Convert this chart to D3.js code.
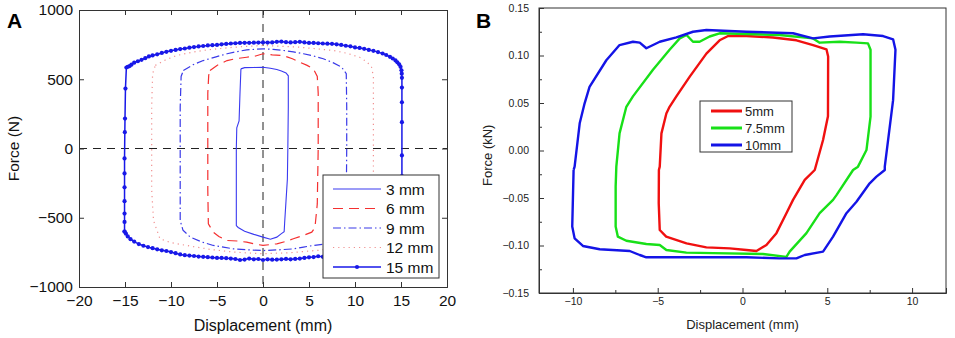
<!DOCTYPE html>
<html>
<head>
<meta charset="utf-8">
<script src="https://cdn.jsdelivr.net/npm/d3@7"></script>
<style>
  body { margin: 0; background: #fff; }
  svg { display: block; font-family: "Liberation Sans", Arial, sans-serif; }
</style>
</head>
<body>
<svg id="chart" width="955" height="338"></svg>
<script>
// ---- panel A data: force (N) vs displacement (mm) ----
const aXTicks = [-20, -15, -10, -5, 0, 5, 10, 15, 20];
const aYTicks = [-1000, -500, 0, 500, 1000];
const aLabels = ["3 mm", "6 mm", "9 mm", "12 mm", "15 mm"];

const loop3 = [[-2.4,575],[-2.0,584],[-1.0,585],[0,587],[0.8,580],[1.5,570],[2.0,560],[2.5,545],[2.75,525],
  [2.75,300],[2.7,0],[2.65,-220],[2.5,-380],[2.35,-540],[2.3,-600],[2.0,-615],[1.5,-640],[0.8,-655],[0,-640],
  [-1.0,-620],[-2.0,-598],[-2.7,-570],[-2.9,-556],[-2.9,-300],[-2.9,0],[-2.85,150],[-2.6,200],[-2.5,400],[-2.4,575]];

const loop6 = [[-5.76,563],[-5.0,600],[-3.9,635],[-3.0,648],[-1.77,659],[-0.8,668],[0,684],[1.0,676],[2.2,671],
  [3.2,648],[4.0,623],[4.8,600],[5.47,575],[5.9,520],[6.0,400],[6.0,0],[5.9,-400],[5.65,-570],[5.3,-604],
  [4.3,-630],[3.3,-652],[2.4,-672],[1.5,-688],[0,-700],[-0.9,-690],[-1.77,-676],[-2.8,-668],[-3.9,-664],
  [-4.8,-636],[-5.4,-604],[-5.94,-544],[-6.0,-300],[-6.0,0],[-6.0,400],[-5.9,530],[-5.76,563]];

const loop9 = [[-8.66,563],[-7.6,605],[-6.5,635],[-5.2,660],[-3.9,684],[-2.8,700],[-1.77,712],[0,720],[1.1,716],
  [2.2,708],[3.3,698],[4.4,684],[5.5,668],[6.55,648],[7.6,620],[8.55,587],[9.05,540],[9.1,300],[9.1,0],
  [9.05,-400],[8.9,-560],[8.3,-640],[7.5,-675],[6.5,-692],[5.47,-700],[4.4,-712],[3.3,-725],[1.6,-732],
  [0,-737],[-1.6,-732],[-3.2,-725],[-4.3,-712],[-5.4,-700],[-6.6,-676],[-7.9,-640],[-8.7,-590],[-9.0,-520],
  [-9.0,-200],[-9.0,0],[-9.0,300],[-8.9,520],[-8.66,563]];

const loop12 = [[-11.7,600],[-10.6,640],[-9.4,671],[-7.8,694],[-6.1,712],[-4.6,722],[-3.2,731],[-1.6,738],[0,744],
  [2.0,738],[4.0,731],[5.8,720],[7.6,708],[9.1,688],[10.5,659],[11.3,625],[11.8,587],[12.0,520],[12.0,0],
  [12.0,-480],[11.8,-600],[11.2,-655],[10.0,-690],[8.3,-715],[6.0,-735],[3.0,-752],[0,-760],[-3.2,-748],
  [-5.8,-728],[-8.3,-700],[-10.0,-680],[-11.2,-652],[-11.9,-520],[-12.1,-300],[-12.1,0],[-12.1,300],
  [-12.0,540],[-11.7,600]];

const loop15 = [[-15.05,-600],[-15.05,-530],[-15.05,-470],[-15.05,-380],[-15.05,-280],[-15.05,-180],[-15.05,-72],
  [-15.02,118],[-15.0,216],[-14.95,433],[-14.85,585],[-14.7,590],[-14.5,595],[-14.3,605],[-14.0,620],[-13.6,630],
  [-13.2,640],[-12.8,652],[-12.4,665],[-12.0,672],[-11.5,680],[-11.0,690],[-10.5,698],[-10.0,705],[-9.5,712],
  [-9.0,718],[-8.5,722],[-8.0,728],[-7.5,732],[-7.0,737],[-6.5,740],[-6.0,744],[-5.5,746],[-5.0,748],[-4.5,752],
  [-4.0,755],[-3.5,758],[-3.0,760],[-2.5,762],[-2.0,763],[-1.5,763],[-1.0,764],[-0.5,765],[0,766],[0.5,765],
  [1.0,766],[1.5,770],[2.0,772],[2.5,768],[3.0,766],[3.5,768],[4.0,770],[4.5,766],[5.0,762],[5.5,762],[6.0,760],
  [6.5,758],[7.0,757],[7.5,756],[8.0,752],[8.5,748],[9.0,742],[9.5,738],[10.0,730],[10.5,726],[11.0,720],
  [11.5,712],[12.0,705],[12.5,696],[13.0,686],[13.4,675],[13.8,662],[14.1,650],[14.4,636],[14.6,622],[14.8,608],
  [14.95,590],[15.05,565],[15.08,540],[15.1,510],[15.1,440],[15.1,334],[15.1,190],[15.1,-50],[15.1,-200],
  [15.1,-400],[15.0,-560],[14.8,-620],[14.0,-680],[13.0,-720],[12.0,-740],[11.0,-755],[10.0,-765],[9.0,-772],
  [8.0,-778],[7.0,-780],[6.5,-782],[6.0,-778],[5.5,-784],[5.0,-786],[4.5,-790],[4.0,-795],[3.5,-797],[3.0,-800],
  [2.5,-797],[2.0,-800],[1.5,-802],[1.0,-803],[0.5,-800],[0,-805],[-0.5,-798],[-1.0,-800],[-1.5,-795],[-2.0,-802],
  [-2.5,-805],[-3.0,-798],[-3.5,-795],[-4.0,-792],[-4.5,-790],[-5.0,-790],[-5.5,-787],[-6.0,-785],[-6.5,-782],
  [-7.0,-780],[-7.5,-776],[-8.0,-773],[-8.5,-770],[-9.0,-765],[-9.5,-756],[-10.0,-748],[-10.5,-740],[-11.0,-735],
  [-11.5,-728],[-12.0,-720],[-12.5,-712],[-13.0,-702],[-13.5,-690],[-14.0,-672],[-14.4,-655],[-14.7,-635],
  [-14.9,-615],[-15.05,-600]];

// ---- panel B data: force (kN) vs displacement (mm) ----
const bXTicks = [-10, -5, 0, 5, 10];
const bXMinor = [-7.5, -2.5, 2.5, 7.5];
const bYTicks = [-0.15, -0.10, -0.05, 0, 0.05, 0.10, 0.15];
const bYMinor = [-0.125, -0.075, -0.025, 0.025, 0.075, 0.125];
const bLabels = ["5mm", "7.5mm", "10mm"];

const loop5 = [[-4.3,0.046],[-3.9,0.057],[-3.1,0.078],[-2.13,0.102],[-1.35,0.116],[-0.85,0.1205],[0.23,0.1205],
  [1.8,0.119],[3.18,0.116],[4.16,0.111],[4.95,0.1065],[5.05,0.099],[5.04,0.036],[4.75,0.011],[4.26,-0.0205],
  [3.67,-0.031],[2.98,-0.052],[2.59,-0.066],[2.0,-0.087],[1.41,-0.0995],[0.82,-0.1058],[0.23,-0.1047],
  [-0.75,-0.103],[-2.13,-0.102],[-3.3,-0.0977],[-4.5,-0.0907],[-4.88,-0.0837],[-4.94,-0.0556],[-4.93,-0.0205],
  [-4.88,-0.017],[-4.78,0.018],[-4.49,0.039],[-4.3,0.046]];

const loop75 = [[-7.44,-0.017],[-7.25,0.018],[-6.85,0.046],[-6.46,0.057],[-5.28,0.085],[-4.3,0.106],[-3.7,0.118],
  [-3.3,0.1216],[-2.92,0.1145],[-2.53,0.1145],[-1.94,0.12],[-1.35,0.1234],[0.23,0.1226],[2.19,0.1216],
  [4.16,0.118],[4.55,0.1135],[5.73,0.1145],[6.72,0.1135],[7.4,0.1128],[7.55,0.106],[7.55,0.0356],[7.31,0.0005],
  [6.81,-0.017],[6.52,-0.0205],[5.54,-0.047],[5.34,-0.052],[4.55,-0.066],[3.77,-0.087],[2.78,-0.1065],
  [2.59,-0.112],[1.21,-0.109],[-1.74,-0.108],[-3.31,-0.1075],[-4.49,-0.1047],[-4.88,-0.0995],[-5.67,-0.0984],
  [-6.85,-0.095],[-7.35,-0.0907],[-7.48,-0.080],[-7.48,-0.038],[-7.44,-0.017]];

const loop10 = [[-9.96,-0.0205],[-10.04,-0.080],[-9.9,-0.0925],[-9.41,-0.1005],[-8.42,-0.104],[-6.65,-0.1058],
  [-6.06,-0.110],[-5.67,-0.1124],[-3.7,-0.1124],[0.23,-0.1124],[2.19,-0.1135],[3.18,-0.1135],[3.67,-0.110],
  [4.75,-0.1065],[5.34,-0.0907],[6.13,-0.066],[6.72,-0.054],[7.5,-0.0345],[7.9,-0.0275],[8.39,-0.0205],
  [8.39,-0.017],[8.88,0.053],[9.02,0.106],[8.88,0.117],[8.29,0.1205],[7.11,0.1223],[5.14,0.120],[4.16,0.118],
  [2.98,0.1234],[0.23,0.125],[-2.13,0.1268],[-2.92,0.125],[-3.9,0.119],[-4.88,0.1145],[-5.67,0.1076],
  [-6.06,0.1135],[-6.46,0.1145],[-7.25,0.111],[-8.03,0.095],[-9.02,0.067],[-9.31,0.0497],[-9.6,0.0286],
  [-9.9,-0.017],[-9.96,-0.0205]];

const svg = d3.select("#chart");

// ================= Panel A =================
const ax = d3.scaleLinear().domain([-20, 20]).range([79, 447]);
const ay = d3.scaleLinear().domain([-1000, 1000]).range([287, 10]);
const gA = svg.append("g");

// zero reference lines
gA.append("line").attr("x1", ax(-20)).attr("x2", ax(20)).attr("y1", ay(0)).attr("y2", ay(0))
  .attr("stroke", "#222").attr("stroke-width", 1).attr("stroke-dasharray", "8,6");
gA.append("line").attr("x1", ax(0)).attr("x2", ax(0)).attr("y1", ay(1000)).attr("y2", ay(-1000))
  .attr("stroke", "#222").attr("stroke-width", 1).attr("stroke-dasharray", "8,6");

const lineA = d3.line().x(d => ax(d[0])).y(d => ay(d[1]));
const aStyles = [
  { data: loop3,  color: "#3a3af0", width: 1.1, dash: null },
  { data: loop6,  color: "#f43030", width: 1.2, dash: "10,6" },
  { data: loop9,  color: "#3a3ae8", width: 1.2, dash: "8,3,1.5,3" },
  { data: loop12, color: "#f09090", width: 1.2, dash: "1.2,4" },
  { data: loop15, color: "#1818e8", width: 1.5, dash: null }
];
aStyles.forEach(s => {
  gA.append("path").attr("d", lineA(s.data)).attr("fill", "none")
    .attr("stroke", s.color).attr("stroke-width", s.width)
    .attr("stroke-dasharray", s.dash);
});
gA.selectAll("circle.m15").data(loop15).enter().append("circle").attr("class", "m15")
  .attr("cx", d => ax(d[0])).attr("cy", d => ay(d[1])).attr("r", 2.1).attr("fill", "#1818e8");

// axes (ticks inside, box)
const tickA = 5;
const minusFmt = d => d3.format("d")(d).replace("-", "\u2212");
const axB = gA.append("g").attr("transform", `translate(0,${ay(-1000)})`)
  .call(d3.axisBottom(ax).tickValues(aXTicks).tickSize(-tickA).tickPadding(8).tickFormat(minusFmt));
const axT = gA.append("g").attr("transform", `translate(0,${ay(1000)})`)
  .call(d3.axisTop(ax).tickValues(aXTicks).tickSize(-tickA).tickFormat(""));
const axL = gA.append("g").attr("transform", `translate(${ax(-20)},0)`)
  .call(d3.axisLeft(ay).tickValues(aYTicks).tickSize(-tickA).tickPadding(6).tickFormat(minusFmt));
const axR = gA.append("g").attr("transform", `translate(${ax(20)},0)`)
  .call(d3.axisRight(ay).tickValues(aYTicks).tickSize(-tickA).tickFormat(""));
[axB, axT, axL, axR].forEach(g => {
  g.select(".domain").attr("stroke", "#333");
  g.selectAll(".tick line").attr("stroke", "#333");
  g.selectAll("text").attr("font-size", 15.5).attr("fill", "#111").attr("font-family", "Liberation Sans, Arial, sans-serif");
});

gA.append("text").attr("x", ax(0)).attr("y", 331).attr("text-anchor", "middle")
  .attr("font-size", 16).attr("fill", "#111").text("Displacement (mm)");
gA.append("text").attr("transform", `translate(19,${ay(0)}) rotate(-90)`).attr("text-anchor", "middle")
  .attr("font-size", 15.5).attr("fill", "#111").text("Force (N)");
gA.append("text").attr("x", 7).attr("y", 28).attr("font-size", 21).attr("font-weight", "bold").attr("fill", "#000").text("A");

// legend A
const legA = gA.append("g");
legA.append("rect").attr("x", 323).attr("y", 175).attr("width", 116).attr("height", 103)
  .attr("fill", "#fff").attr("stroke", "#333").attr("stroke-width", 1);
aLabels.forEach((lab, i) => {
  const yy = 189 + i * 19.5;
  const s = aStyles[i];
  legA.append("line").attr("x1", 333).attr("x2", 381).attr("y1", yy).attr("y2", yy)
    .attr("stroke", s.color).attr("stroke-width", s.width).attr("stroke-dasharray", s.dash);
  if (i === 4) legA.append("circle").attr("cx", 357).attr("cy", yy).attr("r", 2.1).attr("fill", s.color);
  legA.append("text").attr("x", 386).attr("y", yy).attr("dy", "0.36em").attr("font-size", 15.5)
    .attr("fill", "#111").text(lab);
});

// ================= Panel B =================
const bx = d3.scaleLinear().domain([-12, 12]).range([539, 946]);
const by = d3.scaleLinear().domain([-0.15, 0.15]).range([293, 8]);
const gB = svg.append("g");

const lineB = d3.line().x(d => bx(d[0])).y(d => by(d[1]));
const bStyles = [
  { data: loop5,  color: "#f01010" },
  { data: loop75, color: "#18e018" },
  { data: loop10, color: "#1414e6" }
];
bStyles.forEach(s => {
  gB.append("path").attr("d", lineB(s.data)).attr("fill", "none")
    .attr("stroke", s.color).attr("stroke-width", 2.4).attr("stroke-linejoin", "round");
});

// frame
gB.append("rect").attr("x", bx(-12)).attr("y", by(0.15)).attr("width", bx(12) - bx(-12)).attr("height", by(-0.15) - by(0.15))
  .attr("fill", "none").attr("stroke", "#333").attr("stroke-width", 1);

const bxAxis = gB.append("g").attr("transform", `translate(0,${by(-0.15)})`)
  .call(d3.axisBottom(bx).tickValues(bXTicks).tickSize(-5).tickPadding(5).tickFormat(d3.format("d")));
gB.append("g").attr("transform", `translate(0,${by(-0.15)})`)
  .call(d3.axisBottom(bx).tickValues(bXMinor).tickSize(-3).tickFormat(""))
  .select(".domain").remove();
const byAxis = gB.append("g").attr("transform", `translate(${bx(-12)},0)`)
  .call(d3.axisLeft(by).tickValues(bYTicks).tickSize(-5).tickPadding(10).tickFormat(d3.format(".2f")));
gB.append("g").attr("transform", `translate(${bx(-12)},0)`)
  .call(d3.axisLeft(by).tickValues(bYMinor).tickSize(-3).tickFormat(""))
  .select(".domain").remove();
gB.selectAll(".domain").attr("stroke", "#333");
gB.selectAll(".tick line").attr("stroke", "#333");
[bxAxis, byAxis].forEach(g => g.selectAll("text").attr("font-size", 10.5).attr("fill", "#222")
  .attr("font-family", "Liberation Sans, Arial, sans-serif"));

gB.append("text").attr("x", bx(0)).attr("y", 329).attr("text-anchor", "middle")
  .attr("font-size", 13).attr("fill", "#222").text("Displacement (mm)");
gB.append("text").attr("transform", `translate(492,${by(-0.005)}) rotate(-90)`).attr("text-anchor", "middle")
  .attr("font-size", 13).attr("fill", "#222").text("Force (kN)");
gB.append("text").attr("x", 476).attr("y", 28).attr("font-size", 21).attr("font-weight", "bold").attr("fill", "#000").text("B");

// legend B
const legB = gB.append("g");
legB.append("rect").attr("x", 700).attr("y", 101).attr("width", 92).attr("height", 51)
  .attr("fill", "#fff").attr("stroke", "#333").attr("stroke-width", 1);
bLabels.forEach((lab, i) => {
  const yy = 111 + i * 17;
  legB.append("line").attr("x1", 711).attr("x2", 742).attr("y1", yy).attr("y2", yy)
    .attr("stroke", bStyles[i].color).attr("stroke-width", 3);
  legB.append("text").attr("x", 745).attr("y", yy).attr("dy", "0.36em").attr("font-size", 13)
    .attr("fill", "#222").text(lab);
});
</script>
</body>
</html>
